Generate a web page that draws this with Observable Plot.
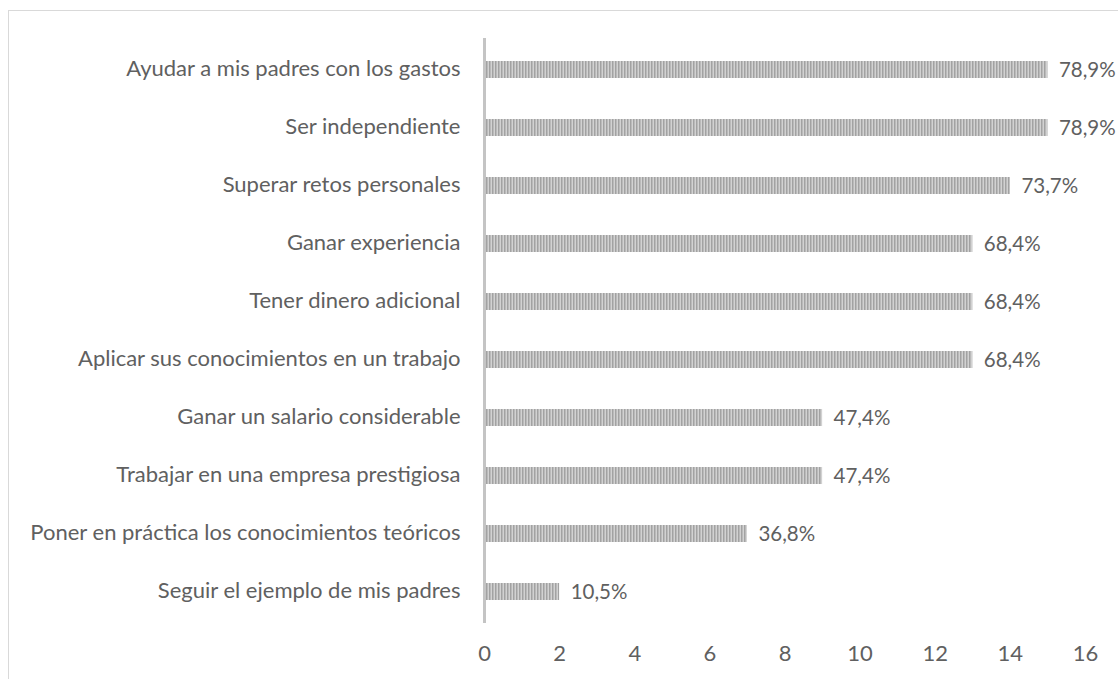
<!DOCTYPE html>
<html>
<head>
<meta charset="utf-8">
<script src="https://cdn.jsdelivr.net/npm/d3@7"></script>
<script src="https://cdn.jsdelivr.net/npm/@observablehq/plot@0.6"></script>
<style>
  html, body { margin: 0; padding: 0; background: #fff; }
  #wrap { position: relative; width: 1118px; height: 679px; overflow: hidden; }
  #border { position: absolute; left: 8px; top: 10px; right: -5px; bottom: -5px;
            border-left: 1.5px solid #d9d9d9; border-top: 1.5px solid #d9d9d9; }
  #chart { position: absolute; left: 0; top: 0; }
</style>
</head>
<body>
<div id="wrap"><div id="border"></div><div id="chart"></div></div>
<script>
const categories = [
  "Ayudar a mis padres con los gastos",
  "Ser independiente",
  "Superar retos personales",
  "Ganar experiencia",
  "Tener dinero adicional",
  "Aplicar sus conocimientos en un trabajo",
  "Ganar un salario considerable",
  "Trabajar en una empresa prestigiosa",
  "Poner en práctica los conocimientos teóricos",
  "Seguir el ejemplo de mis padres"
];
const counts = [15, 15, 14, 13, 13, 13, 9, 9, 7, 2];
const percents = [78.9, 78.9, 73.7, 68.4, 68.4, 68.4, 47.4, 47.4, 36.8, 10.5];
const xTicks = [0, 2, 4, 6, 8, 10, 12, 14, 16];

const data = categories.map((c, i) => ({
  label: c, value: counts[i],
  pct: percents[i].toFixed(1).replace(".", ",") + "%"
}));

const FONT = "Lato, 'Open Sans', sans-serif";
const TXT = "#606060";

const chart = Plot.plot({
  width: 1118,
  height: 679,
  marginLeft: 484,
  marginRight: 33,
  marginTop: 38,
  marginBottom: 56,
  style: { fontFamily: FONT, color: TXT, background: "transparent", overflow: "visible" },
  x: { domain: [0, 16] },
  y: { domain: categories, paddingInner: 0.709, paddingOuter: 0.3545 },
  marks: [
    Plot.barX(data, { x: "value", y: "label", fill: "url(#stripes)" }),
    Plot.ruleX([0], { stroke: "#c4c4c4", strokeWidth: 3 }),
    Plot.text(data, { x: "value", y: "label", text: "pct", textAnchor: "start", dx: 11,
                      fontSize: 20.5, fill: TXT }),
    Plot.axisY({ tickSize: 0, tickPadding: 24, fontSize: 22, label: null, fill: TXT, dy: -1 }),
    Plot.axisX({ ticks: xTicks, tickSize: 0, tickPadding: 22, fontSize: 22, label: null, fill: TXT })
  ]
});

const defs = d3.select(chart).insert("defs", ":first-child");
const pat = defs.append("pattern").attr("id", "stripes")
  .attr("patternUnits", "userSpaceOnUse").attr("width", 3).attr("height", 10);
pat.append("rect").attr("width", 3).attr("height", 10).attr("fill", "#d2d2d2");
pat.append("rect").attr("width", 1.5).attr("height", 10).attr("fill", "#a2a2a2");

document.getElementById("chart").appendChild(chart);
</script>
</body>
</html>
